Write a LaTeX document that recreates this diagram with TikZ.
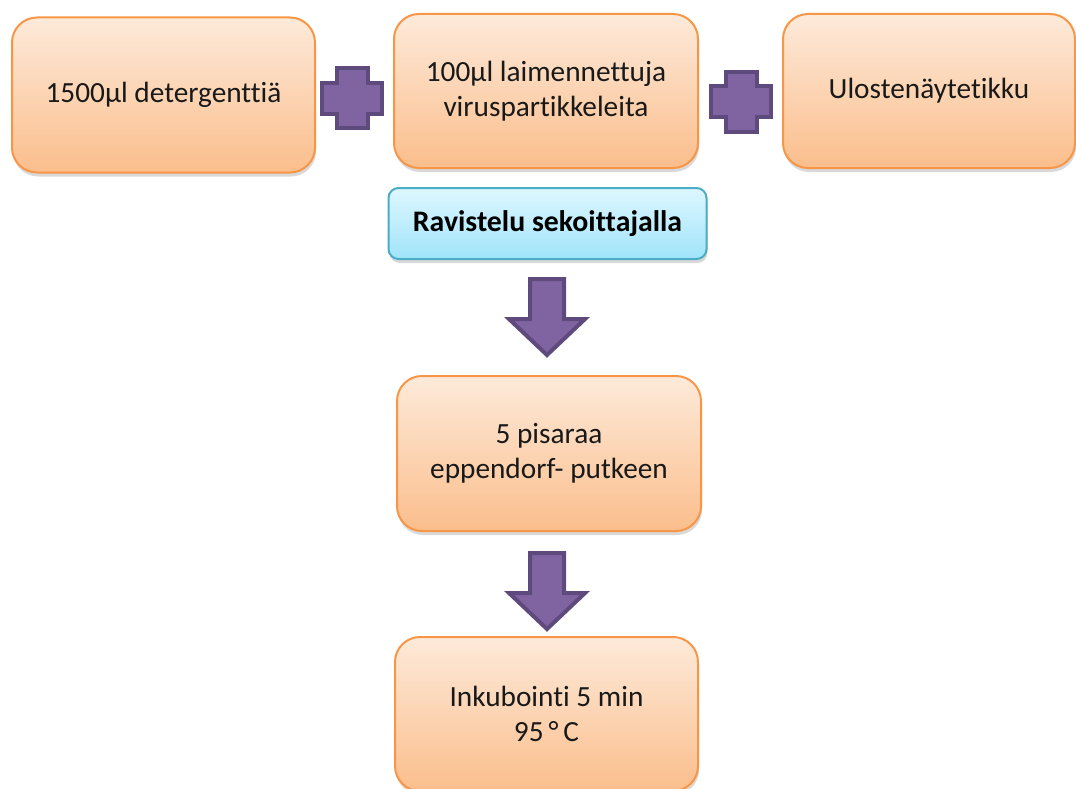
\documentclass[tikz,border=0pt]{standalone}
\usepackage{fontspec}
\setmainfont{Carlito}[Ligatures=NoCommon]
\usetikzlibrary{shadows}
\definecolor{boxtop}{RGB}{253,234,218}
\definecolor{boxbot}{RGB}{251,190,140}
\definecolor{boxline}{RGB}{247,150,70}
\definecolor{cyantop}{RGB}{222,247,255}
\definecolor{cyanbot}{RGB}{160,228,250}
\definecolor{cyanline}{RGB}{75,172,198}
\definecolor{purfill}{RGB}{128,100,162}
\definecolor{purline}{RGB}{94,74,124}
\tikzset{
  stepbox/.style={rectangle, rounded corners=25pt, draw=boxline, line width=2pt,
    top color=boxtop, bottom color=boxbot, inner sep=0pt, align=center,
    font=\fontsize{29.3}{35}\selectfont, text=black!90,
    drop shadow={shadow xshift=1pt, shadow yshift=-4pt, opacity=0.25, fill=black!60}},
  mixbox/.style={rectangle, rounded corners=10pt, draw=cyanline, line width=2pt,
    top color=cyantop, bottom color=cyanbot, inner sep=0pt, align=center,
    font=\fontsize{29.8}{35}\selectfont\bfseries, text=black,
    drop shadow={shadow xshift=1pt, shadow yshift=-4pt, opacity=0.25, fill=black!60}},
  plussign/.pic={
    \draw[fill=purfill, draw=purline, line width=4pt, line join=miter]
      (-15.5,-30) -- (15.5,-30) -- (15.5,-15.5) -- (30,-15.5) -- (30,15.5) -- (15.5,15.5)
      -- (15.5,30) -- (-15.5,30) -- (-15.5,15.5) -- (-30,15.5) -- (-30,-15.5) -- (-15.5,-15.5) -- cycle;
  },
  downarrow/.pic={
    \draw[fill=purfill, draw=purline, line width=4pt, line join=miter]
      (-17,2) -- (17,2) -- (17,42) -- (38,42) -- (0,78) -- (-38,42) -- (-17,42) -- cycle;
  }
}
\begin{document}
\begin{tikzpicture}[x=1pt, y=-1pt]
\useasboundingbox (0,0) rectangle (1076,789);
\node[stepbox, minimum width=303pt, minimum height=155pt] (b1) at (163.5,95) {1500µl detergenttiä};
\node[stepbox, minimum width=304pt, minimum height=154pt] (b2) at (546,91) {100µl laimennettuja\\viruspartikkeleita};
\node[stepbox, minimum width=292pt, minimum height=154pt] (b3) at (929,91) {Ulostenäytetikku};
\node[mixbox, minimum width=318pt, minimum height=71pt] (mix) at (547.5,223.5) {Ravistelu sekoittajalla};
\node[stepbox, minimum width=304pt, minimum height=155pt] (b4) at (549,453.5) {5 pisaraa\\eppendorf- putkeen};
\node[stepbox, minimum width=303pt, minimum height=154pt] (b5) at (546.5,714) {Inkubointi 5 min\\95\,°\,C};
\pic (p1) at (352,98.5) {plussign};
\pic (p2) at (741,102) {plussign};
\pic (a1) at (547,277) {downarrow};
\pic (a2) at (547,551) {downarrow};
\end{tikzpicture}
\end{document}
